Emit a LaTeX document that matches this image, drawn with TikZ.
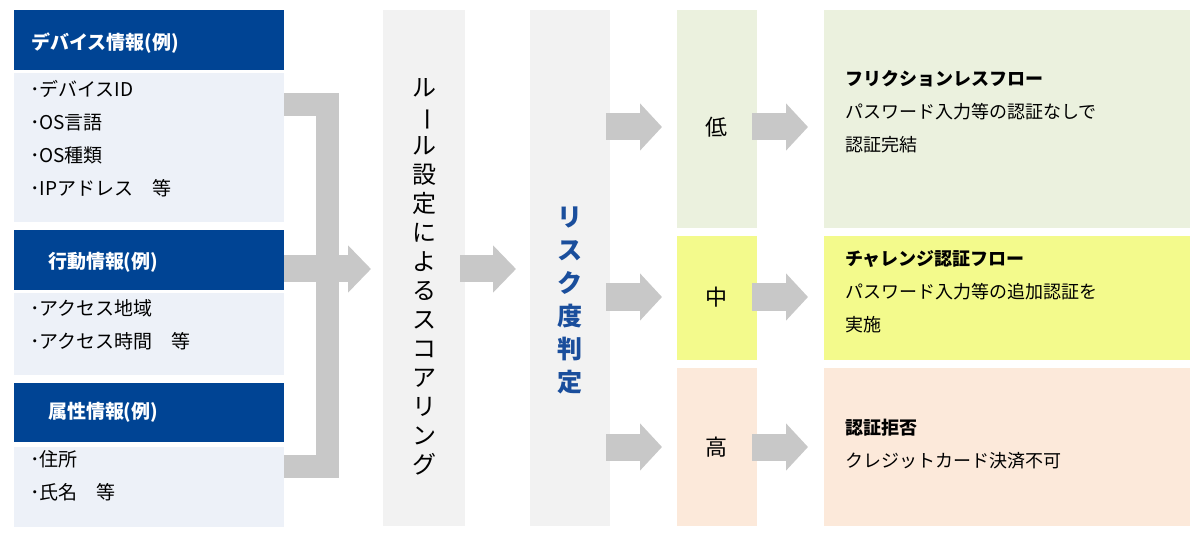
\documentclass[tikz,border=0pt]{standalone}
\usepackage{fontspec}
\setmainfont{Noto Sans CJK JP}
\usetikzlibrary{arrows.meta}
\definecolor{navy}{HTML}{004494}
\definecolor{bodyc}{HTML}{EDF1F8}
\definecolor{grayb}{HTML}{F2F2F2}
\definecolor{arr}{HTML}{C8C8C8}
\definecolor{lowc}{HTML}{EBF1DE}
\definecolor{midc}{HTML}{F3FA8C}
\definecolor{highc}{HTML}{FCE9DA}
\definecolor{blu}{HTML}{1A4E9C}
\newcommand{\boxat}[6]{\node[#6,minimum width=#3-#1,minimum height=#4-#2,anchor=north west] (#5) at (#1,#2) {};}
\begin{document}
\begin{tikzpicture}[x=1pt,y=-1pt,
  every node/.style={inner sep=0,outer sep=0},
  hdr/.style={fill=navy,draw=none},
  bodyb/.style={fill=bodyc,draw=none},
  txt/.style={font=\fontsize{19}{33}\selectfont,align=left,anchor=north west},
  htxt/.style={font=\fontsize{19}{24}\selectfont\bfseries,text=white,anchor=west},
  bigarrow/.style={draw=arr,line width=27pt,-{Triangle[width=46pt,length=23pt]}},
  smallarrow/.style={draw=arr,line width=27pt,-{Triangle[width=46pt,length=22pt]}}]
\useasboundingbox (0,0) rectangle (1200,540);
% left column
\boxat{14}{10}{284}{70}{h1}{hdr}
\boxat{14}{73}{284}{222}{b1}{bodyb}
\boxat{14}{230}{284}{290}{h2}{hdr}
\boxat{14}{293}{284}{375}{b2}{bodyb}
\boxat{14}{383}{284}{442}{h3}{hdr}
\boxat{14}{447}{284}{527}{b3}{bodyb}
\node[htxt] (t1) at (31,43) {デバイス情報(例)};
\node[htxt] (t2) at (48,262) {行動情報(例)};
\node[htxt] (t3) at (48,412) {属性情報(例)};
\node[txt] (l1) at (30,80) {･デバイスID\\･OS言語\\･OS種類\\･IPアドレス\quad 等};
\node[txt] (l2) at (30,300) {･アクセス地域\\･アクセス時間\quad 等};
\node[txt] (l3) at (30,451) {･住所\\･氏名\quad 等};
% bracket
\draw[arr,line width=23pt,line cap=butt,line join=miter] (284,104.5) -| (327.5,466.5) -- (284,466.5);
% middle boxes
\boxat{383}{10}{465}{526}{rule}{fill=grayb}
\boxat{530}{10}{610}{526}{risk}{fill=grayb}
\node[font=\fontsize{24}{29}\selectfont,align=center,anchor=north] (rt) at (424,78)
 {ル\\\rotatebox[origin=c]{-90}{ー}\\ル\\設\\定\\に\\よ\\る\\ス\\コ\\ア\\リ\\ン\\グ};
\node[font=\fontsize{25}{33}\selectfont\bfseries,text=blu,align=center] (rk) at (570,300)
 {リ\\ス\\ク\\度\\判\\定};
\coordinate (m1) at (284,269);
\draw[bigarrow] (m1) -- (371,269);
\draw[bigarrow] (460,269) -- (516,269);
% levels
\boxat{677}{10}{757}{228}{low}{fill=lowc}
\boxat{677}{236}{757}{360}{mid}{fill=midc}
\boxat{677}{368}{757}{526}{high}{fill=highc}
\node[font=\fontsize{22}{26}\selectfont] at (716,127) {低};
\node[font=\fontsize{22}{26}\selectfont] at (716,297) {中};
\node[font=\fontsize{22}{26}\selectfont] at (716,447) {高};
\boxat{824}{10}{1190}{228}{r1}{fill=lowc}
\boxat{824}{236}{1190}{360}{r2}{fill=midc}
\boxat{824}{368}{1190}{526}{r3}{fill=highc}
\foreach \y in {127,297,447}{
  \draw[smallarrow] (606,\y) -- (662,\y);
  \draw[smallarrow] (752,\y) -- (808,\y);
}
\node[txt,font=\fontsize{18}{33}\selectfont] (x1) at (845,70) {\textbf{フリクションレスフロー}\\パスワード入力等の認証なしで\\認証完結};
\node[txt,font=\fontsize{18}{33}\selectfont] (x2) at (845,251) {\textbf{チャレンジ認証フロー}\\パスワード入力等の追加認証を\\実施};
\node[txt,font=\fontsize{18}{33}\selectfont] (x3) at (845,419) {\textbf{認証拒否}\\クレジットカード決済不可};
\end{tikzpicture}
\end{document}
